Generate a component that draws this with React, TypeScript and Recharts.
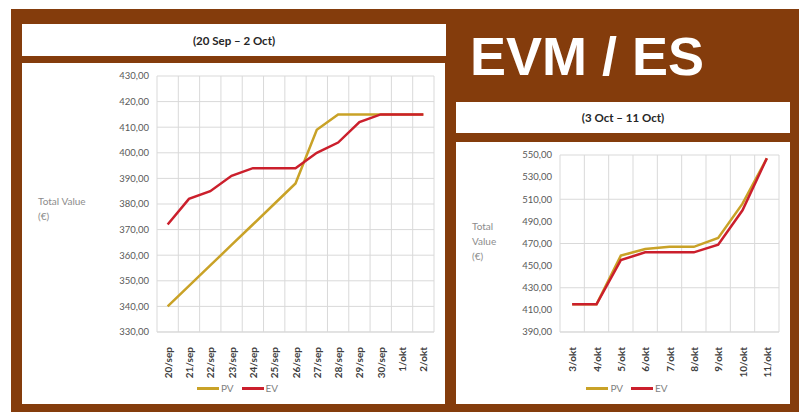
import { LineChart, Line, XAxis, YAxis, CartesianGrid, Legend } from 'recharts';

// first period (20 Sep - 2 Oct)
const SEP_DATES = ['20/sep', '21/sep', '22/sep', '23/sep', '24/sep', '25/sep', '26/sep', '27/sep', '28/sep', '29/sep', '30/sep', '1/okt', '2/okt'];
const SEP_PV = [340, 348, 356, 364, 372, 380, 388, 409, 415, 415, 415, 415, 415];
const SEP_EV = [372, 382, 385, 391, 394, 394, 394, 400, 404, 412, 415, 415, 415];
const SEP_TICKS = [330, 340, 350, 360, 370, 380, 390, 400, 410, 420, 430];

// second period (3 Oct - 11 Oct)
const OCT_DATES = ['3/okt', '4/okt', '5/okt', '6/okt', '7/okt', '8/okt', '9/okt', '10/okt', '11/okt'];
const OCT_PV = [415, 415, 459, 465, 467, 467, 475, 506, 547];
const OCT_EV = [415, 415, 455, 462, 462, 462, 469, 500, 547];
const OCT_TICKS = [390, 410, 430, 450, 470, 490, 510, 530, 550];

const SERIES = ['PV', 'EV'];

const BROWN = '#843C0C';
const PV_COLOR = '#C9A227';
const EV_COLOR = '#CB1F2C';
const FONT = 'Lato, "Liberation Sans", sans-serif';

const fmt = (v: number) => v.toFixed(2).replace('.', ',');

function DateTick(props: any) {
  const { x, y, payload } = props;
  return (
    <text
      x={x}
      y={y + 7}
      transform={`rotate(-90 ${x} ${y + 7})`}
      textAnchor="end"
      dominantBaseline="central"
      fontSize={10}
      fontWeight={700}
      fill="#404040"
      fontFamily={FONT}
    >
      {payload.value}
    </text>
  );
}

function LegendContent(props: any) {
  const items = [...(props.payload ?? [])].sort(
    (a: any, b: any) => SERIES.indexOf(a.value) - SERIES.indexOf(b.value)
  );
  return (
    <div style={{ display: 'flex', justifyContent: 'center', gap: 8, fontFamily: FONT, fontSize: 10, color: '#7F7F7F', paddingLeft: 8 }}>
      {items.map((it: any) => (
        <span key={it.value} style={{ display: 'flex', alignItems: 'center' }}>
          <span style={{ display: 'inline-block', width: 22, height: 3, background: it.color, marginRight: 2 }} />
          {it.value}
        </span>
      ))}
    </div>
  );
}

interface PeriodChartProps {
  dates: string[];
  pv: number[];
  ev: number[];
  ticks: number[];
  width: number;
  height: number;
  yAxisWidth: number;
}

function PeriodChart({ dates, pv, ev, ticks, width, height, yAxisWidth }: PeriodChartProps) {
  const data = dates.map((d, i) => ({ date: d, PV: pv[i], EV: ev[i] }));
  const n = dates.length;
  return (
    <LineChart width={width} height={height} data={data} margin={{ top: 13, right: 11, left: 0, bottom: 0 }}>
      <CartesianGrid
        stroke="#D9D9D9"
        verticalCoordinatesGenerator={({ offset }: any) =>
          Array.from({ length: n + 1 }, (_, i) => offset.left + (i * offset.width) / n)
        }
      />
      <XAxis
        dataKey="date"
        scale="band"
        interval={0}
        height={50}
        tickLine={false}
        axisLine={{ stroke: '#D9D9D9' }}
        tick={<DateTick />}
      />
      <YAxis
        width={yAxisWidth}
        domain={[ticks[0], ticks[ticks.length - 1]]}
        ticks={ticks}
        tickFormatter={fmt}
        axisLine={false}
        tickLine={false}
        tickMargin={2}
        tick={{ fontSize: 9.5, fill: '#595959', fontFamily: FONT }}
      />
      <Legend
        verticalAlign="bottom"
        height={22}
        wrapperStyle={{ left: 0, width }}
        content={<LegendContent />}
      />
      <Line type="linear" dataKey="PV" stroke={PV_COLOR} strokeWidth={2.5} dot={false} isAnimationActive={false} />
      <Line type="linear" dataKey="EV" stroke={EV_COLOR} strokeWidth={2.5} dot={false} isAnimationActive={false} />
    </LineChart>
  );
}

const box = (left: number, top: number, width: number, height: number): React.CSSProperties => ({
  position: 'absolute',
  left,
  top,
  width,
  height,
  background: '#fff',
});

const titleText: React.CSSProperties = {
  display: 'flex',
  alignItems: 'center',
  justifyContent: 'center',
  fontFamily: FONT,
  fontWeight: 700,
  fontSize: 11.5,
  color: '#262626',
};

const yLabel: React.CSSProperties = {
  position: 'absolute',
  fontFamily: FONT,
  fontSize: 10,
  color: '#8C8C8C',
  lineHeight: '15px',
};

export default function App() {
  return (
    <div style={{ position: 'absolute', left: 0, top: 0, width: 799, height: 412, background: '#fff', overflow: 'hidden' }}>
      <div style={{ position: 'absolute', left: 11, top: 9, width: 788, height: 403, background: BROWN }} />

      <div style={{ ...box(22, 24, 424, 32), ...titleText }}>(20 Sep – 2 Oct)</div>
      <div style={box(22, 63, 423, 341)}>
        <div style={{ ...yLabel, left: 16, top: 131 }}>
          Total Value
          <br />
          (€)
        </div>
        <PeriodChart dates={SEP_DATES} pv={SEP_PV} ev={SEP_EV} ticks={SEP_TICKS} width={423} height={341} yAxisWidth={135} />
      </div>

      <div
        style={{
          position: 'absolute',
          left: 470,
          top: 26,
          height: 60,
          whiteSpace: 'nowrap',
          fontFamily: '"Liberation Sans", Arial, sans-serif',
          fontWeight: 700,
          fontSize: 54,
          lineHeight: '60px',
          color: '#fff',
        }}
      >
        EVM / ES
      </div>

      <div style={{ ...box(456, 102, 334, 31), ...titleText }}>(3 Oct – 11 Oct)</div>
      <div style={box(456, 142, 334, 262)}>
        <div style={{ ...yLabel, left: 16, top: 77 }}>
          Total
          <br />
          Value
          <br />
          (€)
        </div>
        <PeriodChart dates={OCT_DATES} pv={OCT_PV} ev={OCT_EV} ticks={OCT_TICKS} width={334} height={262} yAxisWidth={104} />
      </div>
    </div>
  );
}
